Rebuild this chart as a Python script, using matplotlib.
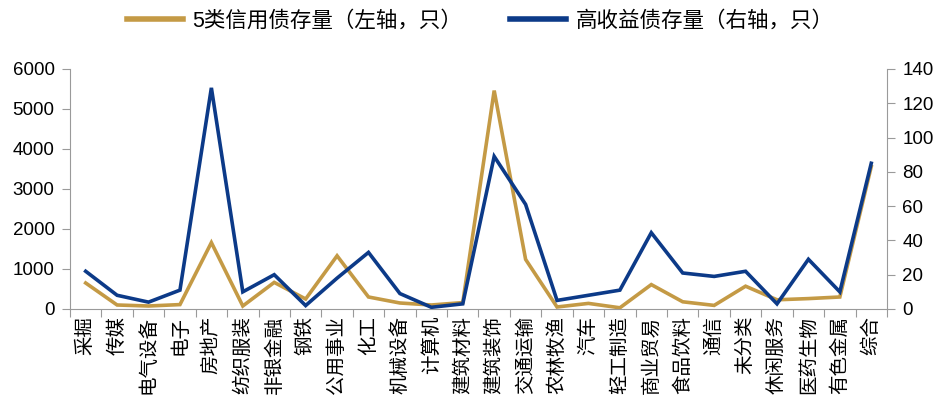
import numpy as np
import matplotlib
matplotlib.use('Agg')
import matplotlib.pyplot as plt
from matplotlib.lines import Line2D

plt.rcParams['font.family'] = ['Liberation Sans', 'Noto Sans CJK SC', 'DejaVu Sans']

industries = ['采掘', '传媒', '电气设备', '电子', '房地产', '纺织服装', '非银金融', '钢铁',
              '公用事业', '化工', '机械设备', '计算机', '建筑材料', '建筑装饰', '交通运输',
              '农林牧渔', '汽车', '轻工制造', '商业贸易', '食品饮料', '通信', '未分类',
              '休闲服务', '医药生物', '有色金属', '综合']
# 5类信用债存量 (left axis)
credit_count = [650, 100, 75, 110, 1660, 75, 665, 250,
                1330, 300, 150, 100, 160, 5460, 1240,
                50, 140, 30, 610, 180, 90, 570,
                230, 260, 300, 3560]
# 高收益债存量 (right axis)
hy_count = [22, 8, 4, 11, 129, 10, 20, 2,
            18, 33, 9, 1, 3, 89, 61,
            5, 8, 11, 44.5, 21, 19, 22,
            3, 29, 10, 85]

gold = '#C49A45'
blue = '#0C3A88'
spine_c = '#9A9A9A'

fig = plt.figure(figsize=(9.38, 4.07), dpi=100)
ax = fig.add_axes([0.0746, 0.2408, 0.8710, 0.5897])
ax2 = ax.twinx()

x = np.arange(len(industries))
ax.plot(x, credit_count, color=gold, lw=2.6, solid_joinstyle='miter', zorder=2)
ax2.plot(x, hy_count, color=blue, lw=2.6, solid_joinstyle='miter', zorder=3)

ax.set_xlim(-0.5, len(industries) - 0.5)
ax.set_ylim(0, 6000)
ax2.set_ylim(0, 140)
ax.set_yticks(np.arange(0, 6001, 1000))
ax2.set_yticks(np.arange(0, 141, 20))

# category boundaries get tick marks, labels sit at the centres
ax.set_xticks(np.arange(-0.5, len(industries), 1.0))
ax.set_xticklabels([])
ax.set_xticks(x, minor=True)
ax.set_xticklabels(industries, minor=True,
                   rotation=90, fontsize=14, va='top', ha='center')
ax.tick_params(axis='x', which='major', length=6, color=spine_c, direction='out')
ax.tick_params(axis='x', which='minor', length=0, pad=5)
ax.tick_params(axis='y', length=6, color=spine_c, labelsize=13.5, pad=5)
ax2.tick_params(axis='y', length=6, color=spine_c, labelsize=13.5, pad=5)

for a in (ax, ax2):
    a.spines['top'].set_visible(False)
    for s in ('left', 'right', 'bottom'):
        a.spines[s].set_color(spine_c)
ax.spines['right'].set_visible(False)
ax2.spines['left'].set_visible(False)
ax2.spines['bottom'].set_visible(False)

handles = [Line2D([], [], color=gold, lw=4),
           Line2D([], [], color=blue, lw=4)]
fig.legend(handles, ['5类信用债存量（左轴，只）', '高收益债存量（右轴，只）'],
           loc='center', bbox_to_anchor=(0.512, 0.948), ncol=2, frameon=False,
           fontsize=15.5, handlelength=2.6, handletextpad=0.45, columnspacing=2.2)

fig.savefig('out.png', dpi=100)
